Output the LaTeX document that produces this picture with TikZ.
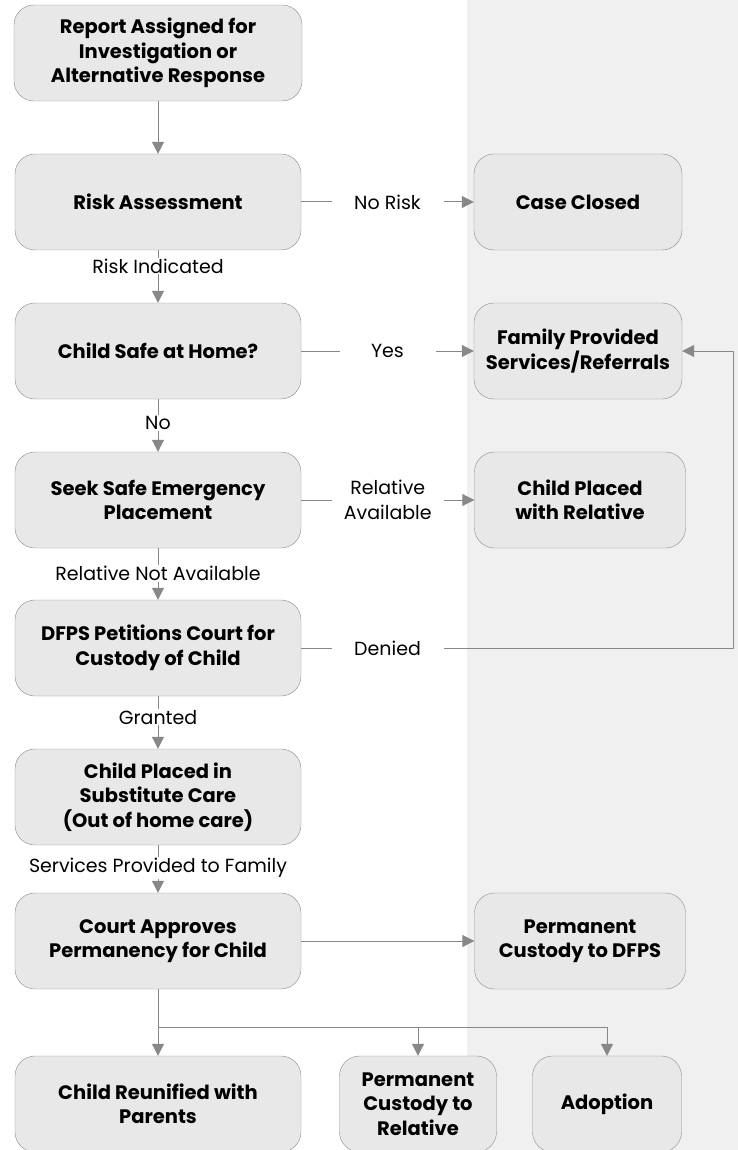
\documentclass[tikz,border=0pt]{standalone}
\usepackage{fontspec}
\setmainfont{Poppins}
\usetikzlibrary{arrows.meta}
\definecolor{boxfill}{HTML}{E8E8E8}
\definecolor{boxline}{HTML}{8C8C8C}
\definecolor{flowgray}{HTML}{888888}
\definecolor{sidegray}{HTML}{F0F0F0}
\begin{document}
\begin{tikzpicture}[x=1pt, y=-1pt,
  step box/.style={draw=boxline, fill=boxfill, rounded corners=20pt, minimum height=96pt,
    align=center, font=\fontsize{19.5}{24.5}\selectfont\bfseries, inner sep=2pt},
  flow/.style={draw=flowgray, line width=1pt, -{Triangle[length=12pt,width=12pt]}},
  lbl/.style={fill=white, font=\fontsize{19}{25}\selectfont, minimum width=112pt, inner xsep=2pt, inner ysep=1pt, align=center}]
  \useasboundingbox (0,0) rectangle (738,1150);
  \fill[sidegray] (467,0) rectangle (738,1150);
  % main column
  \node[step box, minimum width=288pt] (report) at (158,53) {Report Assigned for\\Investigation or\\Alternative Response};
  \node[step box, minimum width=286pt] (risk) at (158,202) {Risk Assessment};
  \node[step box, minimum width=286pt] (safe) at (158,351) {Child Safe at Home?};
  \node[step box, minimum width=286pt] (seek) at (158,500) {Seek Safe Emergency\\Placement};
  \node[step box, minimum width=286pt] (petition) at (158,648) {DFPS Petitions Court for\\Custody of Child};
  \node[step box, minimum width=286pt] (subst) at (158,797) {Child Placed in\\Substitute Care\\(Out of home care)};
  \node[step box, minimum width=286pt] (court) at (158,941) {Court Approves\\Permanency for Child};
  \node[step box, minimum width=286pt] (reunify) at (158,1104) {Child Reunified with\\Parents};
  % right column
  \node[step box, minimum width=208pt] (closed) at (578,202) {Case Closed};
  \node[step box, minimum width=208pt] (family) at (578,351) {Family Provided\\Services/Referrals};
  \node[step box, minimum width=211pt] (relative) at (580,500) {Child Placed\\with Relative};
  \node[step box, minimum width=211pt] (dfps) at (580,941) {Permanent\\Custody to DFPS};
  \node[step box, minimum width=157pt] (permrel) at (418,1104) {Permanent\\Custody to\\Relative};
  \node[step box, minimum width=149pt] (adopt) at (607,1104) {Adoption};
  \coordinate (loop) at (733,648);
  \coordinate (split) at (158,1027);

  \draw[flow] (report) -- (risk);
  \draw[flow] (risk) -- node[lbl, minimum width=0pt, pos=0.3] {Risk Indicated} (safe);
  \draw[flow] (safe) -- node[lbl, minimum width=0pt, pos=0.45] {No} (seek);
  \draw[flow] (seek) -- node[lbl, minimum width=0pt, pos=0.49] {Relative Not Available} (petition);
  \draw[flow] (petition) -- node[lbl, minimum width=0pt, pos=0.4] {Granted} (subst);
  \draw[flow] (subst) -- node[lbl, minimum width=0pt, pos=0.48] {Services Provided to Family} (court);
  \draw[flow] (risk) -- node[lbl] {No Risk} (closed);
  \draw[flow] (safe) -- node[lbl, minimum width=96pt] {Yes} (family);
  \draw[flow] (seek) -- node[lbl] {Relative\\Available} (relative);
  \draw[flow] (petition) -- node[lbl, pos=0.2] {Denied} (loop) |- (family);
  \draw[flow] (court) -- (dfps);
  \draw[flow] (court) -- (reunify);
  \foreach \n in {permrel, adopt}
    \draw[flow] (split) -| (\n);
\end{tikzpicture}
\end{document}
